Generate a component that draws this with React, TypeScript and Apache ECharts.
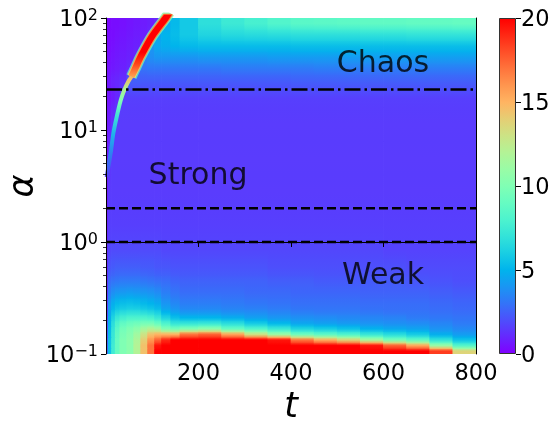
import React, { useEffect, useRef } from 'react';
import * as echarts from 'echarts';

// ---- heat map grid (cell edges) ----
const tEdges = [0, 5, 12, 20, 30, 45, 60, 75, 90, 105, 120, 140, 160, 200, 250, 300, 350, 400, 450, 500, 550, 600, 650, 700, 750, 800];
const logAlphaEdges = [-1, -0.95, -0.9, -0.85, -0.8, -0.75, -0.7, -0.65, -0.6, -0.5, -0.4, -0.3, -0.15, 0, 0.3, 0.6, 0.9, 1.2, 1.36, 1.5, 1.6, 1.7, 1.8, 1.9, 2.0];

// values, rows from bottom (alpha = 0.1) upward
const weakRows = [
  [2.5, 5.5, 7.5, 9, 10, 10.5, 12, 14.5, 17, 20, 20, 20, 20, 20, 20, 20, 20, 20, 20, 20, 20, 20, 20, 18.5, 13.7],
  [2.5, 5.5, 7.5, 9, 10, 10.5, 12, 14.5, 17, 19.5, 20, 20, 20, 20, 20, 20, 20, 20, 20, 20, 19.5, 17.5, 15.4, 11, 8.3],
  [2.3, 5.5, 7.3, 9, 10, 10.5, 11.8, 14, 16, 17.5, 19, 20, 20, 20, 20, 20, 19.5, 17, 15.2, 13.7, 11.5, 9.7, 8.8, 7, 5.6],
  [2.2, 5.3, 7.2, 8.8, 9.8, 10.3, 11.3, 13, 14.5, 15, 15, 15, 17, 17.5, 15.5, 13, 11, 9.3, 8.7, 8.1, 7.2, 6.6, 5.9, 4.8, 4.2],
  [2, 5.2, 7, 8.5, 9.5, 10, 10.5, 11.5, 12, 11.5, 10, 9.5, 10, 10.5, 9, 8.2, 7.3, 6.3, 5.9, 5.5, 4.9, 4.6, 4.4, 3.9, 3.6],
  [2, 5, 6.7, 8, 8.8, 9.2, 9.4, 9.6, 9.6, 9, 8, 7, 7, 7.1, 6.6, 5.8, 5.1, 4.5, 4.3, 4.1, 3.9, 3.8, 3.7, 3.5, 3.2],
  [1.8, 4.8, 6.2, 7.2, 7.7, 8, 8, 8, 7.8, 7.2, 6.2, 5.4, 5, 5, 4.7, 4.3, 4, 3.8, 3.7, 3.6, 3.5, 3.4, 3.2, 3.1, 3],
  [1.6, 4.5, 5.6, 6.3, 6.6, 6.8, 6.8, 6.6, 6.4, 6, 5, 4.4, 4, 4, 3.8, 3.7, 3.5, 3.3, 3.2, 3.2, 3.1, 3, 3, 2.9, 2.8],
  [1.4, 4, 4.8, 5.2, 5.4, 5.5, 5.4, 5.2, 5, 4.7, 4, 3.6, 3.3, 3.3, 3.2, 3.1, 3, 2.9, 2.9, 2.9, 2.8, 2.8, 2.8, 2.7, 2.6],
  [1.2, 3.3, 3.8, 4, 4.1, 4.2, 4.1, 4, 3.9, 3.7, 3.3, 3, 2.8, 2.8, 2.8, 2.7, 2.7, 2.6, 2.6, 2.6, 2.5, 2.5, 2.5, 2.4, 2.3],
  [1.1, 2.8, 3, 3.1, 3.2, 3.2, 3.2, 3.1, 3, 2.9, 2.8, 2.6, 2.5, 2.5, 2.5, 2.5, 2.4, 2.4, 2.3, 2.3, 2.3, 2.3, 2.2, 2.1, 2],
  [1, 2.2, 2.3, 2.4, 2.4, 2.4, 2.4, 2.3, 2.3, 2.2, 2.2, 2.1, 2.1, 2.1, 2.1, 2.1, 2, 2, 2, 2, 2, 2, 1.9, 1.9, 1.9],
  [1, 1.8, 1.9, 1.9, 1.9, 1.9, 1.9, 1.9, 1.9, 1.9, 1.8, 1.8, 1.8, 1.8, 1.8, 1.8, 1.8, 1.8, 1.8, 1.8, 1.8, 1.7, 1.7, 1.7, 1.7],
];
const strongRows = [
  [0.8, 1.6, 1.6, 1.6, 1.6, 1.6, 1.6, 1.6, 1.6, 1.6, 1.6, 1.6, 1.6, 1.6, 1.6, 1.6, 1.6, 1.6, 1.6, 1.6, 1.6, 1.6, 1.6, 1.6, 1.6],
  [0.6, 1.5, 1.5, 1.5, 1.5, 1.5, 1.5, 1.5, 1.5, 1.5, 1.5, 1.5, 1.5, 1.5, 1.5, 1.5, 1.5, 1.5, 1.5, 1.5, 1.5, 1.5, 1.5, 1.5, 1.5],
  [0.5, 1.3, 1.5, 1.5, 1.5, 1.5, 1.5, 1.5, 1.5, 1.5, 1.5, 1.5, 1.5, 1.5, 1.5, 1.5, 1.5, 1.5, 1.5, 1.5, 1.5, 1.5, 1.5, 1.5, 1.5],
  [0.5, 0.8, 1.2, 1.5, 1.5, 1.5, 1.5, 1.5, 1.5, 1.5, 1.5, 1.5, 1.5, 1.5, 1.5, 1.5, 1.5, 1.5, 1.5, 1.5, 1.5, 1.5, 1.5, 1.5, 1.5],
  [0.4, 0.5, 0.7, 1.0, 1.6, 1.6, 1.6, 1.6, 1.6, 1.6, 1.6, 1.6, 1.6, 1.6, 1.6, 1.6, 1.6, 1.6, 1.6, 1.6, 1.6, 1.6, 1.6, 1.6, 1.6],
];
const chaosRows = [
  [0.4, 0.7, 0.9, 1.0, 1.2, 2.4, 2.4, 2.3, 2.3, 2.3, 2.3, 2.3, 2.3, 2.3, 2.3, 2.3, 2.3, 2.4, 2.4, 2.4, 2.4, 2.4, 2.4, 2.4, 2.4],
  [0.3, 0.5, 0.6, 0.7, 0.8, 1.0, 2.8, 3.0, 3.1, 3.1, 3.1, 3.1, 3.1, 3.1, 3.2, 3.2, 3.2, 3.2, 3.3, 3.3, 3.3, 3.3, 3.3, 3.3, 3.3],
  [0.3, 0.4, 0.5, 0.6, 0.7, 0.8, 1.0, 3.5, 3.8, 4.0, 4.0, 4.0, 4.0, 4.1, 4.1, 4.1, 4.2, 4.2, 4.2, 4.2, 4.3, 4.3, 4.3, 4.3, 4.3],
  [0.2, 0.3, 0.4, 0.5, 0.6, 0.7, 0.8, 1.0, 4.0, 4.6, 4.8, 5.0, 5.2, 5.3, 5.3, 5.3, 5.3, 5.4, 5.4, 5.4, 5.4, 5.4, 5.4, 5.4, 5.4],
  [0.2, 0.3, 0.3, 0.4, 0.5, 0.6, 0.7, 0.8, 1.0, 4.5, 5.0, 5.3, 5.8, 6.3, 6.5, 6.6, 6.7, 6.8, 6.8, 6.8, 6.9, 6.9, 7.0, 7.0, 7.0],
  [0.2, 0.2, 0.3, 0.3, 0.4, 0.5, 0.6, 0.7, 0.8, 1.0, 4.5, 5.2, 5.8, 6.8, 7.4, 7.8, 8.2, 8.5, 8.6, 8.7, 8.8, 8.8, 8.9, 8.9, 9.0],
];

// ---- the bright ridge (t, alpha) ----
const ridgeT = [1.5, 7, 11, 16, 23, 32, 40, 48, 55, 64, 76, 100, 129, 137];
const ridgeAlpha = [3.8, 5.2, 6.6, 9.4, 13, 18.5, 23, 27, 30, 36, 46, 69, 100, 112];
const ridgeUpperFrom = 8; // index where the wide red part begins
const ridgeLowerTo = 10;

// ---- regime boundaries ----
const chaosBoundary = 23;
const strongBoundaries = [1, 2];

// ---- labels ----
const regionNames = ['Chaos', 'Strong', 'Weak'];
const regionT = [599, 199, 599];
const regionAlpha = [41, 4.05, 0.52];

// ---- ticks ----
const xTicks = [200, 400, 600, 800];
const yMinorTicks = [0.2, 0.3, 0.4, 0.5, 0.6, 0.7, 0.8, 0.9, 2, 3, 4, 5, 6, 7, 8, 9, 20, 30, 40, 50, 60, 70, 80, 90];
const colorbarMin = 0;
const colorbarMax = 20;
const colorbarStep = 5;

const FONT = 'DejaVu Sans';

function rainbow(x: number): string {
  const xc = Math.max(0, Math.min(1, x));
  const r = Math.min(1, Math.abs(2 * xc - 0.5));
  const g = Math.max(0, Math.sin(Math.PI * xc));
  const b = Math.max(0, Math.cos((Math.PI * xc) / 2));
  const h = (v: number) => Math.round(v * 255).toString(16).padStart(2, '0');
  return '#' + h(r) + h(g) + h(b);
}
const cmapColors: string[] = [];
for (let i = 0; i <= 20; i++) cmapColors.push(rainbow(i / 20));
const valueColor = (v: number) => rainbow((v - colorbarMin) / (colorbarMax - colorbarMin));

export default function App() {
  const ref = useRef<HTMLDivElement>(null);
  useEffect(() => {
    if (!ref.current) return;
    const chart = echarts.init(ref.current, null, { renderer: 'svg' });
    const rows = [...weakRows, ...strongRows, ...chaosRows];
    const nCols = tEdges.length - 1;
    const cells: number[][] = [];
    rows.forEach((row, i) => {
      row.forEach((v, j) => {
        cells.push([tEdges[j], tEdges[j + 1], Math.pow(10, logAlphaEdges[i]), Math.pow(10, logAlphaEdges[i + 1]), v]);
      });
    });
    const ridgePts = ridgeT.map((t, i) => [t, ridgeAlpha[i]]);
    const upper = ridgePts.slice(ridgeUpperFrom);
    const lower = ridgePts.slice(0, ridgeLowerTo + 1);
    const grad = (stops: [number, string][]) =>
      new echarts.graphic.LinearGradient(0, 0, 0, 1, stops.map(([offset, color]) => ({ offset, color })));
    const lineBase = { type: 'line', xAxisIndex: 0, yAxisIndex: 0, symbol: 'none', silent: true, clip: true, animation: false, smooth: 0.3 };
    const refLine = (a: number, dash: number[]) => ({
      type: 'line', xAxisIndex: 0, yAxisIndex: 0, symbol: 'none', silent: true, z: 6,
      data: [[0, a], [800, a]],
      lineStyle: { color: '#000', width: 2.5, type: dash },
    });
    const minorLogs = yMinorTicks.map((v) => Math.log10(v));
    const tickFont = { fontSize: 22.5, fontFamily: FONT, color: '#000' };

    chart.setOption({
      animation: false,
      textStyle: { fontFamily: FONT },
      grid: [
        { left: 106, top: 18, width: 370, height: 336, outerBoundsMode: 'none', containLabel: false },
        { left: 499, top: 18, width: 17, height: 336, outerBoundsMode: 'none', containLabel: false },
      ],
      visualMap: {
        type: 'continuous', show: false, min: colorbarMin, max: colorbarMax, dimension: 4, seriesIndex: 0,
        inRange: { color: cmapColors },
      },
      xAxis: [
        {
          gridIndex: 0, type: 'value', min: 0, max: 800, interval: 200, z: 10,
          axisLine: { show: true, lineStyle: { color: '#000', width: 1 } },
          axisTick: { show: true, length: 5, customValues: xTicks, lineStyle: { color: '#000', width: 1 } },
          axisLabel: { customValues: xTicks, margin: 6, ...tickFont },
          splitLine: { show: false },
          name: 't', nameLocation: 'middle', nameGap: 33,
          nameTextStyle: { fontSize: 35, lineHeight: 34, fontStyle: 'italic', fontFamily: FONT, color: '#000' },
        },
        {
          gridIndex: 0, type: 'value', min: 0, max: 800, position: 'top', z: 10,
          axisLine: { show: true, lineStyle: { color: '#000', width: 1 } },
          axisTick: { show: false }, axisLabel: { show: false }, splitLine: { show: false },
        },
        { gridIndex: 1, type: 'category', data: [''], show: false },
      ],
      yAxis: [
        {
          gridIndex: 0, type: 'log', logBase: 10, min: 0.1, max: 100, position: 'left', z: 10,
          axisLine: { show: true, lineStyle: { color: '#000', width: 1 } },
          axisTick: { show: true, length: 5, lineStyle: { color: '#000', width: 1 } },
          axisLabel: {
            showMinLabel: true, showMaxLabel: true, margin: 8,
            formatter: (v: number) => {
              const e = Math.round(Math.log10(v));
              return `{b|10}{s|${e < 0 ? '\u2212' + -e : e}}`;
            },
            rich: {
              b: { fontSize: 22.5, fontFamily: FONT, color: '#000', lineHeight: 24 },
              s: { fontSize: 16, fontFamily: FONT, color: '#000', lineHeight: 16, verticalAlign: 'top' },
            },
          },
          splitLine: { show: false },
          name: '\u03b1', nameLocation: 'middle', nameGap: 70, nameRotate: 90, nameMoveOverlap: false,
          nameTextStyle: { fontSize: 35, lineHeight: 30, fontStyle: 'italic', fontFamily: FONT, color: '#000' },
        },
        {
          gridIndex: 0, type: 'value', min: -1, max: 2, position: 'left', z: 10,
          axisLine: { show: false },
          axisTick: { show: true, length: 3, customValues: minorLogs, lineStyle: { color: '#000', width: 0.8 } },
          axisLabel: { show: false }, splitLine: { show: false },
        },
        {
          gridIndex: 0, type: 'value', min: -1, max: 2, position: 'right', z: 10,
          axisLine: { show: true, lineStyle: { color: '#000', width: 1 } },
          axisTick: { show: false }, axisLabel: { show: false }, splitLine: { show: false },
        },
        {
          gridIndex: 1, type: 'value', min: colorbarMin, max: colorbarMax, interval: colorbarStep, position: 'right',
          axisLine: { show: false },
          axisTick: { show: true, length: 5, lineStyle: { color: '#000', width: 1 } },
          axisLabel: { showMinLabel: true, showMaxLabel: true, margin: 5, ...tickFont },
          splitLine: { show: false },
        },
      ],
      series: [
        {
          type: 'custom', coordinateSystem: 'cartesian2d', xAxisIndex: 0, yAxisIndex: 0,
          dimensions: ['t0', 't1', 'a0', 'a1', 'v'],
          encode: { x: [0, 1], y: [2, 3] },
          data: cells, clip: true, silent: true, z: 1,
          renderItem: (params: any, api: any) => {
            const p0 = api.coord([api.value(0), api.value(3)]);
            const p1 = api.coord([api.value(1), api.value(2)]);
            const idx = params.dataIndex;
            const i = Math.floor(idx / nCols);
            const j = idx % nCols;
            const v = rows[i][j];
            const vBottom = i > 0 ? (rows[i - 1][j] + v) / 2 : v;
            const vTop = i < rows.length - 1 ? (rows[i + 1][j] + v) / 2 : v;
            const fill = new echarts.graphic.LinearGradient(0, 0, 0, 1, [
              { offset: 0, color: valueColor(vTop) },
              { offset: 0.5, color: api.visual('color') },
              { offset: 1, color: valueColor(vBottom) },
            ]);
            return {
              type: 'rect',
              shape: { x: p0[0] - 0.4, y: p0[1] - 0.4, width: p1[0] - p0[0] + 0.8, height: p1[1] - p0[1] + 0.8 },
              style: { fill },
            };
          },
        },
        {
          ...lineBase, z: 3, data: lower,
          lineStyle: {
            width: 4,
            color: grad([
              [0, '#ff3010'], [0.1, '#ff8040'], [0.17, '#ffb060'], [0.27, '#b0f090'], [0.37, '#80ffb4'],
              [0.5, '#40e0d8'], [0.64, '#20b4eb'], [0.78, '#2a8af0'], [0.91, '#4060f4'], [1, '#5a40f8'],
            ]),
          },
        },
        {
          ...lineBase, z: 3, data: upper,
          lineStyle: { width: 11, opacity: 0.8, color: grad([[0, '#8af5a8'], [0.7, '#70f0b8'], [1, '#60e8c8']]) },
        },
        {
          ...lineBase, z: 3, data: upper,
          lineStyle: { width: 8.5, color: grad([[0, '#ff7a30'], [0.6, '#ff8a3a'], [0.85, '#ffb050'], [1, '#d0e880']]) },
        },
        {
          ...lineBase, z: 3, data: upper,
          lineStyle: { width: 6.5, color: grad([[0, '#ff0000'], [0.62, '#ff0000'], [0.8, '#ff4418'], [1, '#ffa050']]) },
        },
        refLine(chaosBoundary, [16, 4, 2.5, 4]),
        ...strongBoundaries.map((a) => refLine(a, [9, 4])),
        {
          type: 'scatter', xAxisIndex: 0, yAxisIndex: 0, symbolSize: 0, silent: true, z: 7,
          data: regionNames.map((n, i) => ({ name: n, value: [regionT[i], regionAlpha[i]] })),
          label: { show: true, position: 'inside', formatter: '{b}', fontSize: 30, fontFamily: FONT, color: '#000' },
        },
        {
          type: 'bar', xAxisIndex: 2, yAxisIndex: 3, barWidth: '100%', silent: true,
          data: [colorbarMax],
          itemStyle: {
            borderColor: '#333', borderWidth: 1,
            color: new echarts.graphic.LinearGradient(0, 1, 0, 0, cmapColors.map((c, i) => ({ offset: i / 20, color: c }))),
          },
        },
      ],
    });
    return () => chart.dispose();
  }, []);
  return <div ref={ref} style={{ position: 'fixed', left: 0, top: 0, width: 559, height: 424 }} />;
}
